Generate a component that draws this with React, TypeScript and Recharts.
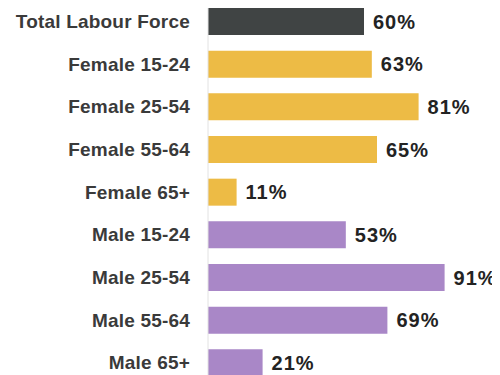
import { BarChart, Bar, XAxis, YAxis, Cell, LabelList } from "recharts";

const groups = [
  "Total Labour Force",
  "Female 15-24",
  "Female 25-54",
  "Female 55-64",
  "Female 65+",
  "Male 15-24",
  "Male 25-54",
  "Male 55-64",
  "Male 65+",
];
const rates = [60, 63, 81, 65, 11, 53, 91, 69, 21];
const kinds = ["total", "female", "female", "female", "female", "male", "male", "male", "male"];

const colours: Record<string, string> = {
  total: "#404444",
  female: "#edbb45",
  male: "#a987c7",
};

const data = groups.map((name, i) => ({ name, rate: rates[i], kind: kinds[i] }));

const font = "'Liberation Sans', Arial, sans-serif";

const App = () => {
  return (
    <div style={{ marginTop: -8, marginLeft: -8, width: 500, height: 375, overflow: "hidden", background: "#fff" }}>
      <BarChart
        width={500}
        height={384}
        data={data}
        layout="vertical"
        margin={{ top: 0, right: 32, bottom: 0, left: 0 }}
      >
        <XAxis type="number" domain={[0, 100]} hide />
        <YAxis
          type="category"
          dataKey="name"
          width={208}
          axisLine={{ stroke: "#e2e2e2" }}
          tickLine={false}
          tickSize={0}
          tickMargin={18}
          tick={{ fill: "#3a3a3a", fontSize: 19, fontWeight: 700, fontFamily: font, letterSpacing: 0.2 }}
          interval={0}
        />
        <Bar dataKey="rate" barSize={27} isAnimationActive={false}>
          {data.map((d) => (
            <Cell key={d.name} fill={colours[d.kind]} />
          ))}
          <LabelList
            dataKey="rate"
            position="right"
            offset={9}
            formatter={(v: number) => `${v}%`}
            style={{ fill: "#232323", fontSize: 20, fontWeight: 700, fontFamily: font, letterSpacing: 1 }}
          />
        </Bar>
      </BarChart>
    </div>
  );
};

export default App;
